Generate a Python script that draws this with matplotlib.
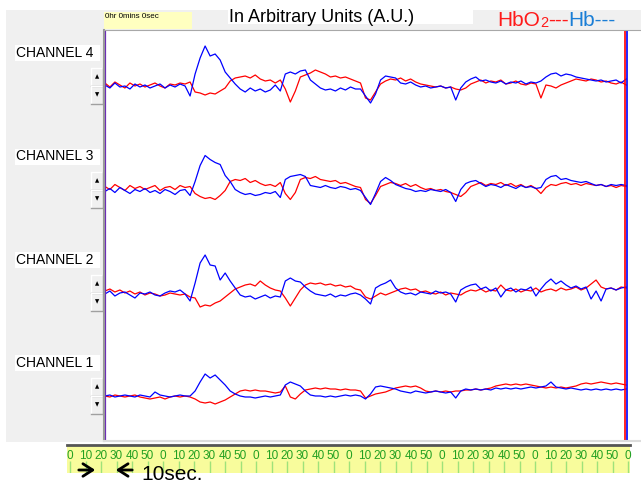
import numpy as np
import matplotlib
matplotlib.use("Agg")
import matplotlib.pyplot as plt
from matplotlib.patches import Rectangle

plt.rcParams['font.family'] = ['Liberation Sans', 'DejaVu Sans']

# HbO2 (red) and Hb (blue) traces, arbitrary units, one sample every ~3.2 s
hbo2_ch4 = [3, -1, 4, 1, -2, 3, 0, 2, -1, 1, 3, 0, -2, 2, 1,
            3, 2, 4, -6, -7, -9, -7, -8, -5, -2, 5, 8, 9, 10, 8,
            11, 7, 5, 6, 3, 6, -3, -16, -5, 9, 11, 13, 16, 14, 12,
            9, 10, 8, 9, 7, 5, 3, -12, -14, -6, 2, 5, 7, 6, 8,
            5, 7, 4, 2, 1, 0, -1, 0, -2, -1, -3, -4, -2, 2, 4,
            6, 3, 5, 4, 6, 2, 3, 5, 2, 1, 3, 2, -12, 1, 0,
            -2, 1, 3, 5, 7, 6, 5, 7, 6, 4, 5, 3, 2, 4, 1]
hb_ch4 = [1, -2, 3, -1, 0, -3, 2, -1, 1, -2, 0, 2, -2, 1, -1,
          2, 0, -10, 12, 28, 40, 30, 32, 26, 14, 8, 2, -3, -6, -2,
          -5, -3, -6, -4, 1, -5, 12, 14, 12, 15, 16, 6, 2, -2, -4,
          -3, -5, -2, -4, -1, -3, -3, -10, -17, -8, 6, 10, 9, 8, 3,
          2, 4, 1, -1, 0, -2, -1, 0, -2, -1, -14, -2, 4, 7, 9,
          5, 6, 4, 3, 5, 2, 4, 3, 5, 2, 4, 3, 5, 9, 12,
          13, 10, 12, 11, 9, 8, 7, 6, 5, 6, 4, 5, 6, 3, 7]

hbo2_ch3 = [3, 0, 5, 2, -1, 4, 1, 3, 0, 2, 4, -1, 2, 3, 0,
            4, 2, 3, -4, -7, -9, -8, -10, -6, -1, 8, 10, 9, 11, 7,
            9, 6, 4, 5, 3, 7, -4, -10, -3, 10, 12, 11, 13, 10, 9,
            8, 9, 6, 7, 5, 3, 2, -10, -14, -6, 3, 5, 7, 6, 4,
            6, 3, 5, 2, 0, 1, -1, 0, -2, -3, -5, -7, -3, 3, 5,
            7, 4, 6, 5, 7, 4, 6, 3, 5, 2, 4, 1, -4, 2, 5,
            4, 6, 7, 5, 6, 4, 6, 5, 4, 5, 3, 4, 2, 4, 3]
hb_ch3 = [-2, 1, -3, 2, -1, -4, 0, -2, 1, -3, -1, -4, 0, -2, -5,
          -1, 0, -6, 8, 24, 34, 30, 27, 25, 14, 8, 0, -3, -5, -4,
          -6, -5, -3, -4, -2, -8, 10, 13, 14, 15, 13, 4, 3, 2, 4,
          2, 1, 3, 2, 0, 1, -1, -8, -15, -4, 8, 12, 9, 5, 3,
          1, 0, -2, -1, -2, 0, -1, -2, 0, -3, -12, 0, 6, 8, 9,
          6, 3, 5, 4, 2, 5, 3, 1, 4, 2, 3, 1, 2, 10, 13,
          14, 10, 11, 9, 8, 7, 8, 6, 4, 5, 3, 5, 4, 5, 4]

hbo2_ch2 = [2, 4, 1, 3, 0, 2, -1, 1, -2, 0, -1, -3, -2, 0, -1,
            -2, -1, -4, -5, -14, -12, -13, -10, -8, -4, 0, 4, 6, 8, 9,
            7, 12, 8, 5, 3, 2, -5, -13, -5, 3, 8, 10, 9, 10, 8,
            9, 7, 8, 6, 7, 4, 3, -4, -6, -3, 0, -2, 0, 2, 4,
            5, 3, 4, 1, 2, 0, -1, 1, -2, 0, -1, -2, 1, 3, 2,
            4, 1, 3, 2, 8, 3, 2, 4, 1, 3, 2, 5, 1, 3, 4,
            2, 5, 3, 4, 6, 3, 5, 9, 13, 6, 4, 5, 3, 6, 5]
hb_ch2 = [-1, 2, -3, 0, 1, -2, -5, 0, -1, 1, -2, -3, 0, 2, 1,
          3, -1, -8, 10, 30, 38, 28, 27, 13, 20, 12, 5, -2, -4, -3,
          -6, -4, -2, -5, -3, -4, 12, 15, 12, 11, 6, 2, -1, -2, -3,
          -1, -4, -2, -3, -1, 0, -2, -6, -11, 5, 8, 10, 13, 5, 1,
          -1, 0, -2, 1, 0, -1, 2, 0, 1, -1, -9, 3, 6, 8, 9,
          4, 6, 2, 5, -4, 3, 5, 1, 4, 3, 6, -3, 4, 10, 14,
          9, 12, 8, 5, 7, 4, 6, -6, 2, -8, 4, 5, 3, 5, 6]

hbo2_ch1 = [0, -1, 1, 0, -1, 0, 1, -1, -2, -3, -2, -1, -3, -1, 0,
            -1, 0, -1, -3, -6, -7, -6, -8, -6, -4, -1, 2, 5, 6, 5,
            6, 5, 5, 4, 3, 4, 10, -1, -3, 2, 6, 7, 8, 7, 8,
            7, 7, 6, 7, 6, 6, 5, -2, 0, 2, 3, 4, 6, 8, 9,
            10, 9, 10, 8, 5, 4, 5, 4, 5, 4, 5, 5, 6, 6, 7,
            6, 7, 8, 10, 11, 12, 11, 12, 11, 12, 11, 10, 9, 8, 9,
            8, 9, 8, 9, 10, 12, 13, 12, 13, 14, 13, 12, 13, 12, 11]
hb_ch1 = [0, 1, -1, 0, 1, 0, -1, 1, 0, -1, 4, 1, 0, -1, 0,
          1, 0, 0, 5, 14, 22, 18, 21, 16, 11, 5, 2, 0, -1, -1,
          -2, -1, 0, -1, 0, 1, 11, 14, 12, 10, 5, 1, 0, 0, -1,
          0, -1, 0, 1, 0, 1, 0, -3, 2, 9, 10, 9, 8, 7, 5,
          4, 3, 5, 4, 3, 4, 5, 4, 3, 4, -2, 5, 7, 6, 7,
          6, 7, 6, 8, 7, 8, 7, 8, 7, 8, 9, 8, 9, 10, 14,
          9, 8, 7, 8, 7, 6, 7, 6, 7, 6, 7, 6, 7, 6, 7]

channel_names = ['CHANNEL 1', 'CHANNEL 2', 'CHANNEL 3', 'CHANNEL 4']
hbo2 = [hbo2_ch1, hbo2_ch2, hbo2_ch3, hbo2_ch4]
hb = [hb_ch1, hb_ch2, hb_ch3, hb_ch4]
rec_start, rec_end = 22.5, 358.8          # seconds
tick_secs = list(range(0, 361, 10))
tick_labels = ['0', '10', '20', '30', '40', '50'] * 6 + ['0']
elapsed = '0hr 0mins 0sec'

W, H = 641, 484
PPS = 93.0 / 60      # pixels per second on the time strip
X0 = 70              # pixel position of t = 0
RED, BLUE = '#ff0000', '#0000ff'


def frame(x0, y0, x1, y1):
    return [x0 / W, 1 - y1 / H, (x1 - x0) / W, (y1 - y0) / H]


fig = plt.figure(figsize=(W / 100, H / 100), dpi=100)

# background / window chrome in pixel coordinates
bg = fig.add_axes([0, 0, 1, 1], zorder=1)
bg.set_xlim(0, W)
bg.set_ylim(H, 0)
bg.axis('off')
fig.patches.append(Rectangle((6 / W, 1 - 442 / H), 1, 432 / H, transform=fig.transFigure,
                             color='#f0f0f0', lw=0, zorder=-5))
bg.add_patch(Rectangle((228, 0), 245, 24, color='white', lw=0))
bg.text(229, 17, 'In Arbitrary Units (A.U.)', fontsize=13, va='center')
bg.add_patch(Rectangle((104, 12), 88, 17, color='#ffffc0', lw=0))
bg.text(105, 17, elapsed, fontsize=5.8, va='center')

t1 = bg.text(497, 26, 'HbO', fontsize=15, color='#ff1a1a', va='baseline')
t2 = bg.annotate('2', xy=(1, 0), xycoords=t1, fontsize=10.5, color='#ff1a1a', va='bottom')
t3 = bg.annotate('---', xy=(1, 0), xycoords=(t2, t1), fontsize=15, color='#ff1a1a', va='bottom')
bg.annotate('Hb---', xy=(1, 0), xycoords=t3, fontsize=15, color='#1a7ed6', va='bottom')

# traces
ax = fig.add_axes(frame(104, 30, W, 441), zorder=2)
ax.set_xlim((104 - X0) / PPS, (W - X0) / PPS)
ax.set_ylim(0, 411)
ax.set_xticks([])
ax.set_yticks([])
ax.spines['right'].set_visible(False)
ax.spines['left'].set_color('#9a9a9a')
ax.spines['left'].set_linewidth(1.5)
ax.spines['top'].set_color('#a8a8a8')
ax.spines['bottom'].set_color('#dcdcdc')
ax.spines['bottom'].set_linewidth(1.5)

offsets = [45, 148, 251.5, 355]
for k in range(4):
    t_red = np.linspace(rec_start, rec_end, len(hbo2[k]))
    t_blue = np.linspace(rec_start, rec_end, len(hb[k]))
    ax.plot(t_red, offsets[k] + np.array(hbo2[k]), color=RED, lw=0.9)
    ax.plot(t_blue, offsets[k] + np.array(hb[k]), color=BLUE, lw=0.9)
ax.axvline(rec_start, color='#6a2ab8', lw=1.6)
ax.axvline(rec_end - 0.6, color=RED, lw=1.2)
ax.axvline(rec_end + 0.5, color=BLUE, lw=1.2)

# channel labels and scale buttons
for k, name in enumerate(channel_names):
    base = 441 - offsets[k]
    bg.add_patch(Rectangle((15, base - 41), 85, 16, color='white', lw=0))
    bg.text(16, base - 33, name, fontsize=10, va='center')
    for y0, glyph in [(base - 18, '\u25b2'), (base, '\u25bc')]:
        bg.add_patch(Rectangle((91, y0), 13, 18, facecolor='#f0f0f0', edgecolor='none'))
        bg.plot([91, 91, 103], [y0 + 18, y0, y0], color='white', lw=1)
        bg.plot([91, 103, 103], [y0 + 18, y0 + 18, y0], color='#a0a0a0', lw=1)
        bg.text(97, y0 + 9, glyph, fontsize=4, ha='center', va='center', family=['DejaVu Sans'])

# time strip
tl = fig.add_axes(frame(67, 445, 630, 473), zorder=0.5)
tl.set_xlim((67 - X0) / PPS, (630 - X0) / PPS)
tl.set_ylim(0, 1)
tl.set_facecolor('#f8fc9c')
for s in ['left', 'right', 'bottom']:
    tl.spines[s].set_visible(False)
tl.spines['top'].set_color('#555555')
tl.spines['top'].set_linewidth(2)
tl.set_xticks([])
tl.set_yticks([])
tl.vlines(tick_secs, 0, 0.42, color='#9ee27a', lw=1)
for s, lab in zip(tick_secs, tick_labels):
    tl.text(s, 0.6, lab, ha='center', va='center', fontsize=8.5, color='#22a022')

arrow = dict(arrowstyle='->, head_length=0.7, head_width=0.45', lw=2, color='black')
bg.annotate('', xy=(98, 470), xytext=(76, 470), arrowprops=arrow)
bg.annotate('', xy=(113, 470), xytext=(135, 470), arrowprops=arrow)
bg.text(141, 474, '10sec.', fontsize=15, va='center')

fig.savefig('out.png', dpi=100)
